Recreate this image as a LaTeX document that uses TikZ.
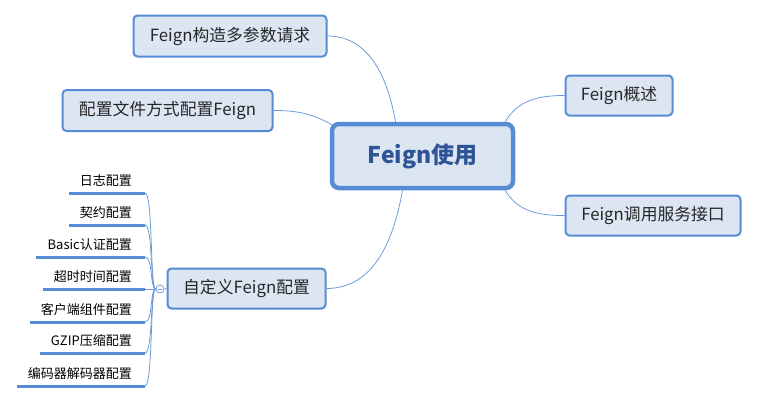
\documentclass[tikz,border=0pt]{standalone}
\usepackage{fontspec}
\setmainfont{Noto Sans CJK SC}
\usetikzlibrary{calc}
\definecolor{bordc}{RGB}{86,140,212}
\definecolor{fillc}{RGB}{220,230,242}
\definecolor{linec}{RGB}{110,155,216}
\definecolor{ctext}{RGB}{47,84,150}
\definecolor{ntext}{RGB}{38,38,38}
\tikzset{
  topic/.style={draw=bordc, fill=fillc, line width=2pt, rounded corners=4pt, inner sep=0pt,
    text=ntext, font=\fontsize{16.8}{19}\selectfont},
  central/.style={draw=bordc, fill=fillc, line width=4.5pt, rounded corners=7pt, inner sep=0pt,
    text=ctext, font=\fontsize{23}{27}\selectfont\bfseries, minimum width=181pt, minimum height=64pt},
  conn/.style={draw=linec, line width=0.8pt},
  leaf/.style={anchor=base east, inner sep=0pt, text=black, font=\fontsize{13}{15}\selectfont},
  bar/.style={draw=bordc, line width=3pt},
  twig/.style={draw=linec, line width=0.8pt},
}
\begin{document}
\begin{tikzpicture}[x=1pt,y=-1pt]
\useasboundingbox (0,0) rectangle (758,402);
% central
\node[central] (c) at (422.5,156) {Feign使用};
% main topics
\node[topic, minimum width=193pt, minimum height=41pt] (n1) at (230,36) {Feign构造多参数请求};
\node[topic, minimum width=210pt, minimum height=41pt] (n2) at (167.5,110.5) {配置文件方式配置Feign};
\node[topic, minimum width=107pt, minimum height=40pt] (n3) at (619,95.5) {Feign概述};
\node[topic, minimum width=175pt, minimum height=40pt] (n4) at (653,215.5) {Feign调用服务接口};
\node[topic, minimum width=158pt, minimum height=40pt] (n5) at (246.5,288.5) {自定义Feign配置};
% connectors from central
\draw[conn] ([xshift=-27pt]c.north) to[out=100,in=0] (n1.east);
\draw[conn] ([xshift=4pt,yshift=-4pt]c.north west) to[out=150,in=0] (n2.east);
\draw[conn] ([xshift=-10pt]c.north east) to[out=60,in=180] (n3.west);
\draw[conn] ([xshift=-10pt]c.south east) to[out=-60,in=180] (n4.west);
\draw[conn] ([xshift=-20pt]c.south) to[out=-100,in=0] (n5.east);
% collapse marker
\node[circle, draw=linec, fill=white, line width=0.8pt, minimum size=8pt, inner sep=0pt] (m) at (160,289) {};
\draw[linec, line width=0.8pt] ([xshift=-2pt]m.center) -- ([xshift=2pt]m.center);
\draw[conn] (n5.west) -- (m.east);
% leaves
\node[leaf] (l1) at (132,185) {日志配置};
\node[leaf] (l2) at (132,217) {契约配置};
\node[leaf] (l3) at (132,249) {Basic认证配置};
\node[leaf] (l4) at (132,281) {超时时间配置};
\node[leaf] (l5) at (132,314) {客户端组件配置};
\node[leaf] (l6) at (132,345) {GZIP压缩配置};
\node[leaf] (l7) at (132,378) {编码器解码器配置};
\coordinate (b1) at (145,193);
\coordinate (b2) at (145,225);
\coordinate (b3) at (145,257);
\coordinate (b4) at (145,289);
\coordinate (b5) at (145,322);
\coordinate (b6) at (145,353);
\coordinate (b7) at (145,386);
\foreach \i in {1,2,3,5,6,7}{
  \draw[bar] ([xshift=-11pt]l\i.west |- b\i) -- (b\i);
  \draw[twig] (b\i) .. controls ($(b\i)+(8,0)$) and (150,289) .. (m.west);
}
\draw[bar] ([xshift=-11pt]l4.west |- b4) -- (b4);
\draw[twig] (b4) -- (m.west);
\end{tikzpicture}
\end{document}
